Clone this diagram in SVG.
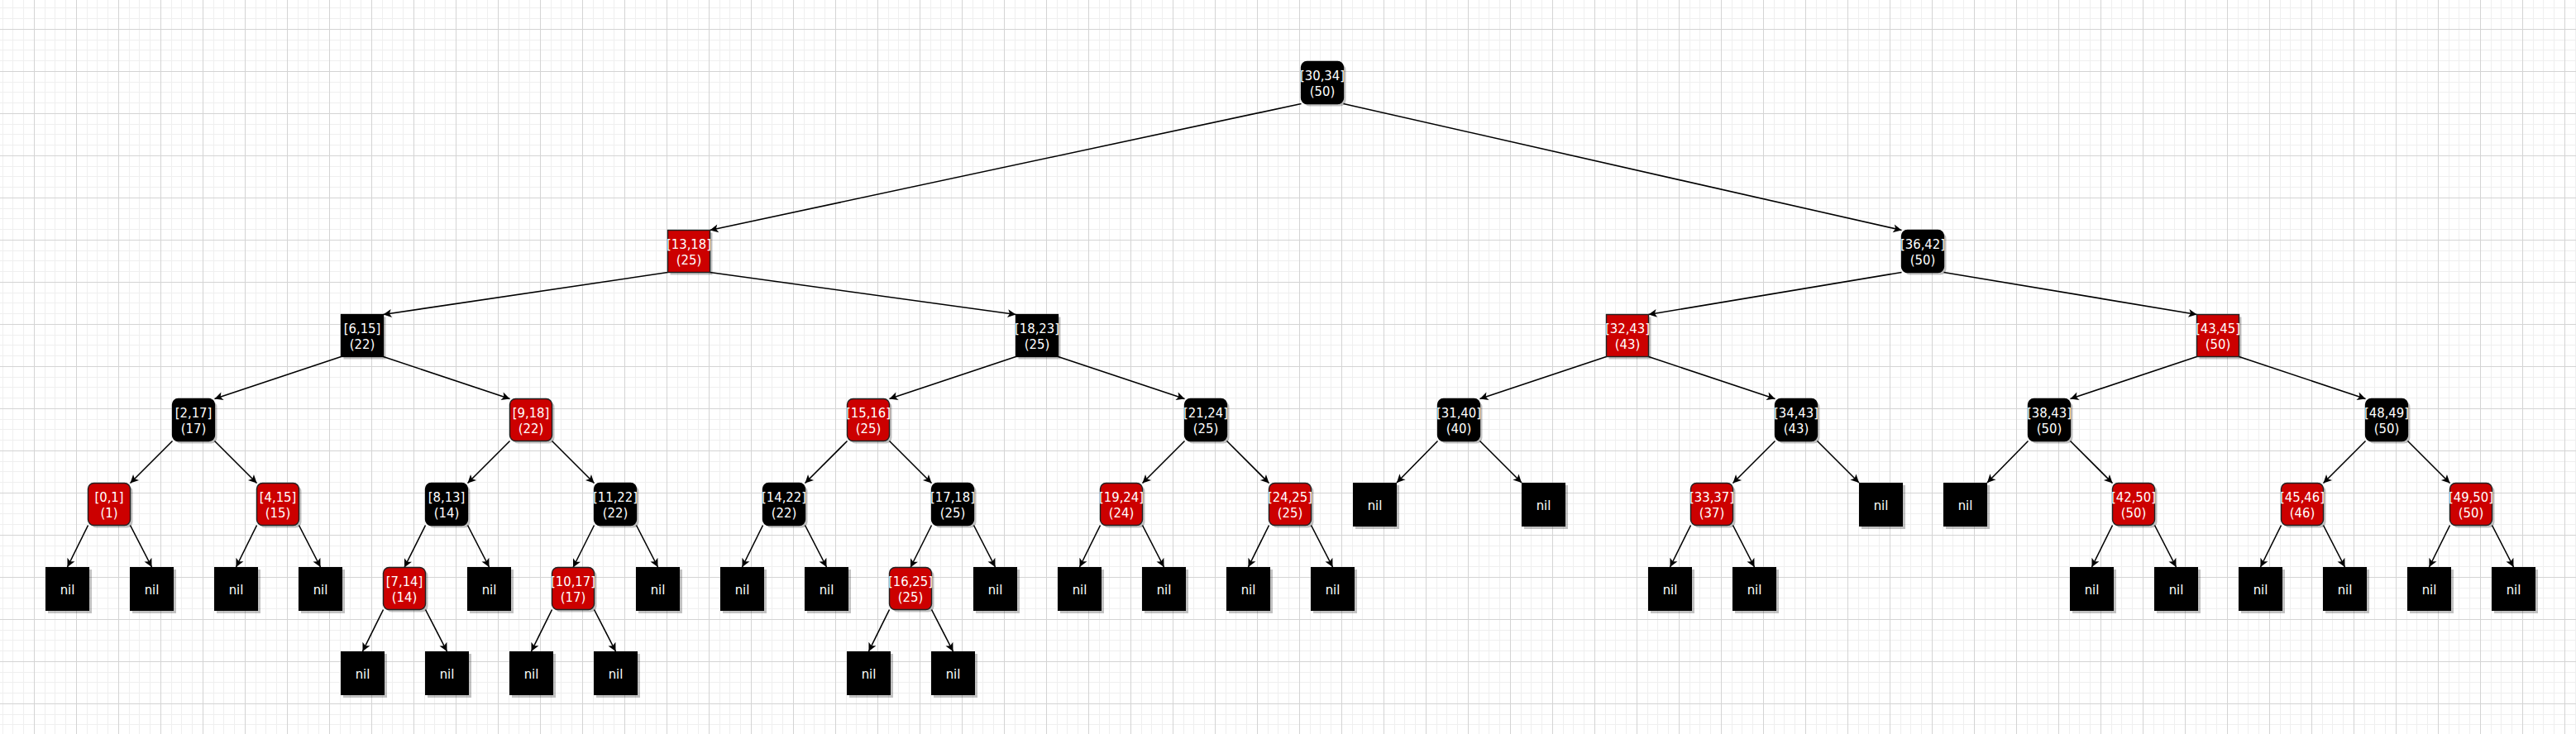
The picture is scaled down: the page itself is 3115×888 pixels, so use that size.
<svg xmlns="http://www.w3.org/2000/svg" xmlns:xlink="http://www.w3.org/1999/xlink" width="3115" height="888" viewBox="0 0 3115 888">
<style>
.sh{fill:#000;fill-opacity:.24}
.blk{fill:#000;stroke:#000;stroke-width:1.3}
.red{fill:#CC0000;stroke:#222;stroke-width:1.4}
.nf{fill:#000}
text{font-family:'DejaVu Sans Condensed','DejaVu Sans',sans-serif;font-stretch:condensed;font-size:16.5px;fill:#fff;text-anchor:middle}
.e{stroke:#000;stroke-width:1.6;fill:none;marker-end:url(#arr)}
</style>
<defs>
<pattern id="grid" width="51" height="51" patternUnits="userSpaceOnUse" x="41" y="35">
<rect width="51" height="51" fill="#fff"/>
<rect x="13" y="0" width="1" height="51" fill="#efefef"/>
<rect x="25" y="0" width="1" height="51" fill="#efefef"/>
<rect x="38" y="0" width="1" height="51" fill="#efefef"/>
<rect x="0" y="13" width="51" height="1" fill="#efefef"/>
<rect x="0" y="25" width="51" height="1" fill="#efefef"/>
<rect x="0" y="38" width="51" height="1" fill="#efefef"/>
<rect x="0" y="0" width="1" height="51" fill="#d4d4d4"/>
<rect x="0" y="0" width="51" height="1" fill="#d4d4d4"/>
</pattern>
<marker id="arr" markerUnits="userSpaceOnUse" viewBox="-11 -6 12 12" refX="0" refY="0" markerWidth="12" markerHeight="12" orient="auto"><path d="M0,0 L-10,-5 L-7.5,0 L-10,5 Z" fill="#000"/></marker>
<g id="rb"><rect class="sh" x="-22.5" y="-22.5" width="51" height="51" rx="7"/><rect class="blk" x="-25.5" y="-25.5" width="51" height="51" rx="7"/></g>
<g id="rr"><rect class="sh" x="-22.5" y="-22.5" width="51" height="51" rx="7"/><rect class="red" x="-25.5" y="-25.5" width="51" height="51" rx="7"/></g>
<g id="sb"><rect class="sh" x="-22.5" y="-22.5" width="51" height="51"/><rect class="blk" x="-25.5" y="-25.5" width="51" height="51"/></g>
<g id="sr"><rect class="sh" x="-22.5" y="-22.5" width="51" height="51"/><rect class="red" x="-25.5" y="-25.5" width="51" height="51"/></g>
<g id="nl"><rect class="sh" x="-23" y="-23" width="53" height="53"/><rect class="nf" x="-26" y="-26" width="53" height="53"/></g>
</defs>
<rect width="3115" height="888" fill="url(#grid)"/>
<g id="edges">
<path class="e" d="M1573.5,125.5 L858.5,278.5"/>
<path class="e" d="M1624.5,125.5 L2299.5,278.5"/>
<path class="e" d="M807.5,329.5 L463.5,380.5"/>
<path class="e" d="M858.5,329.5 L1228.5,380.5"/>
<path class="e" d="M2299.5,329.5 L1993.5,380.5"/>
<path class="e" d="M2350.5,329.5 L2656.5,380.5"/>
<path class="e" d="M412.5,431.5 L259.5,482.5"/>
<path class="e" d="M463.5,431.5 L616.5,482.5"/>
<path class="e" d="M1228.5,431.5 L1075.5,482.5"/>
<path class="e" d="M1279.5,431.5 L1432.5,482.5"/>
<path class="e" d="M1942.5,431.5 L1789.5,482.5"/>
<path class="e" d="M1993.5,431.5 L2146.5,482.5"/>
<path class="e" d="M2656.5,431.5 L2503.5,482.5"/>
<path class="e" d="M2707.5,431.5 L2860.5,482.5"/>
<path class="e" d="M208.5,533.5 L157.5,584.5"/>
<path class="e" d="M259.5,533.5 L310.5,584.5"/>
<path class="e" d="M616.5,533.5 L565.5,584.5"/>
<path class="e" d="M667.5,533.5 L718.5,584.5"/>
<path class="e" d="M1024.5,533.5 L973.5,584.5"/>
<path class="e" d="M1075.5,533.5 L1126.5,584.5"/>
<path class="e" d="M1432.5,533.5 L1381.5,584.5"/>
<path class="e" d="M1483.5,533.5 L1534.5,584.5"/>
<path class="e" d="M1738.5,533.5 L1689,584"/>
<path class="e" d="M1789.5,533.5 L1840,584"/>
<path class="e" d="M2146.5,533.5 L2095.5,584.5"/>
<path class="e" d="M2197.5,533.5 L2248,584"/>
<path class="e" d="M2452.5,533.5 L2403,584"/>
<path class="e" d="M2503.5,533.5 L2554.5,584.5"/>
<path class="e" d="M2860.5,533.5 L2809.5,584.5"/>
<path class="e" d="M2911.5,533.5 L2962.5,584.5"/>
<path class="e" d="M106.5,635.5 L81.5,686"/>
<path class="e" d="M157.5,635.5 L183.5,686"/>
<path class="e" d="M310.5,635.5 L285.5,686"/>
<path class="e" d="M361.5,635.5 L387.5,686"/>
<path class="e" d="M514.5,635.5 L489,686.5"/>
<path class="e" d="M565.5,635.5 L591.5,686"/>
<path class="e" d="M718.5,635.5 L693,686.5"/>
<path class="e" d="M769.5,635.5 L795.5,686"/>
<path class="e" d="M922.5,635.5 L897.5,686"/>
<path class="e" d="M973.5,635.5 L999.5,686"/>
<path class="e" d="M1126.5,635.5 L1101,686.5"/>
<path class="e" d="M1177.5,635.5 L1203.5,686"/>
<path class="e" d="M1330.5,635.5 L1305.5,686"/>
<path class="e" d="M1381.5,635.5 L1407.5,686"/>
<path class="e" d="M1534.5,635.5 L1509.5,686"/>
<path class="e" d="M1585.5,635.5 L1611.5,686"/>
<path class="e" d="M2044.5,635.5 L2019.5,686"/>
<path class="e" d="M2095.5,635.5 L2121.5,686"/>
<path class="e" d="M2554.5,635.5 L2529.5,686"/>
<path class="e" d="M2605.5,635.5 L2631.5,686"/>
<path class="e" d="M2758.5,635.5 L2733.5,686"/>
<path class="e" d="M2809.5,635.5 L2835.5,686"/>
<path class="e" d="M2962.5,635.5 L2937.5,686"/>
<path class="e" d="M3013.5,635.5 L3039.5,686"/>
<path class="e" d="M463.5,737.5 L438.5,788"/>
<path class="e" d="M514.5,737.5 L540.5,788"/>
<path class="e" d="M667.5,737.5 L642.5,788"/>
<path class="e" d="M718.5,737.5 L744.5,788"/>
<path class="e" d="M1075.5,737.5 L1050.5,788"/>
<path class="e" d="M1126.5,737.5 L1152.5,788"/>
</g>
<g id="nodes">
<g id="n30_34" transform="translate(1599,100)"><use href="#rb"/><text><tspan x="0" y="-3">[30,34]</tspan><tspan x="0" y="15.8">(50)</tspan></text></g>
<g id="n13_18" transform="translate(833,304)"><use href="#sr"/><text><tspan x="0" y="-3">[13,18]</tspan><tspan x="0" y="15.8">(25)</tspan></text></g>
<g id="n36_42" transform="translate(2325,304)"><use href="#rb"/><text><tspan x="0" y="-3">[36,42]</tspan><tspan x="0" y="15.8">(50)</tspan></text></g>
<g id="n6_15" transform="translate(438,406)"><use href="#sb"/><text><tspan x="0" y="-3">[6,15]</tspan><tspan x="0" y="15.8">(22)</tspan></text></g>
<g id="n18_23" transform="translate(1254,406)"><use href="#sb"/><text><tspan x="0" y="-3">[18,23]</tspan><tspan x="0" y="15.8">(25)</tspan></text></g>
<g id="n32_43" transform="translate(1968,406)"><use href="#sr"/><text><tspan x="0" y="-3">[32,43]</tspan><tspan x="0" y="15.8">(43)</tspan></text></g>
<g id="n43_45" transform="translate(2682,406)"><use href="#sr"/><text><tspan x="0" y="-3">[43,45]</tspan><tspan x="0" y="15.8">(50)</tspan></text></g>
<g id="n2_17" transform="translate(234,508)"><use href="#rb"/><text><tspan x="0" y="-3">[2,17]</tspan><tspan x="0" y="15.8">(17)</tspan></text></g>
<g id="n9_18" transform="translate(642,508)"><use href="#rr"/><text><tspan x="0" y="-3">[9,18]</tspan><tspan x="0" y="15.8">(22)</tspan></text></g>
<g id="n15_16" transform="translate(1050,508)"><use href="#rr"/><text><tspan x="0" y="-3">[15,16]</tspan><tspan x="0" y="15.8">(25)</tspan></text></g>
<g id="n21_24" transform="translate(1458,508)"><use href="#rb"/><text><tspan x="0" y="-3">[21,24]</tspan><tspan x="0" y="15.8">(25)</tspan></text></g>
<g id="n31_40" transform="translate(1764,508)"><use href="#rb"/><text><tspan x="0" y="-3">[31,40]</tspan><tspan x="0" y="15.8">(40)</tspan></text></g>
<g id="n34_43" transform="translate(2172,508)"><use href="#rb"/><text><tspan x="0" y="-3">[34,43]</tspan><tspan x="0" y="15.8">(43)</tspan></text></g>
<g id="n38_43" transform="translate(2478,508)"><use href="#rb"/><text><tspan x="0" y="-3">[38,43]</tspan><tspan x="0" y="15.8">(50)</tspan></text></g>
<g id="n48_49" transform="translate(2886,508)"><use href="#rb"/><text><tspan x="0" y="-3">[48,49]</tspan><tspan x="0" y="15.8">(50)</tspan></text></g>
<g id="n0_1" transform="translate(132,610)"><use href="#rr"/><text><tspan x="0" y="-3">[0,1]</tspan><tspan x="0" y="15.8">(1)</tspan></text></g>
<g id="n4_15" transform="translate(336,610)"><use href="#rr"/><text><tspan x="0" y="-3">[4,15]</tspan><tspan x="0" y="15.8">(15)</tspan></text></g>
<g id="n8_13" transform="translate(540,610)"><use href="#rb"/><text><tspan x="0" y="-3">[8,13]</tspan><tspan x="0" y="15.8">(14)</tspan></text></g>
<g id="n11_22" transform="translate(744,610)"><use href="#rb"/><text><tspan x="0" y="-3">[11,22]</tspan><tspan x="0" y="15.8">(22)</tspan></text></g>
<g id="n14_22" transform="translate(948,610)"><use href="#rb"/><text><tspan x="0" y="-3">[14,22]</tspan><tspan x="0" y="15.8">(22)</tspan></text></g>
<g id="n17_18" transform="translate(1152,610)"><use href="#rb"/><text><tspan x="0" y="-3">[17,18]</tspan><tspan x="0" y="15.8">(25)</tspan></text></g>
<g id="n19_24" transform="translate(1356,610)"><use href="#rr"/><text><tspan x="0" y="-3">[19,24]</tspan><tspan x="0" y="15.8">(24)</tspan></text></g>
<g id="n24_25" transform="translate(1560,610)"><use href="#rr"/><text><tspan x="0" y="-3">[24,25]</tspan><tspan x="0" y="15.8">(25)</tspan></text></g>
<g id="n33_37" transform="translate(2070,610)"><use href="#rr"/><text><tspan x="0" y="-3">[33,37]</tspan><tspan x="0" y="15.8">(37)</tspan></text></g>
<g id="n42_50" transform="translate(2580,610)"><use href="#rr"/><text><tspan x="0" y="-3">[42,50]</tspan><tspan x="0" y="15.8">(50)</tspan></text></g>
<g id="n45_46" transform="translate(2784,610)"><use href="#rr"/><text><tspan x="0" y="-3">[45,46]</tspan><tspan x="0" y="15.8">(46)</tspan></text></g>
<g id="n49_50" transform="translate(2988,610)"><use href="#rr"/><text><tspan x="0" y="-3">[49,50]</tspan><tspan x="0" y="15.8">(50)</tspan></text></g>
<g id="n7_14" transform="translate(489,712)"><use href="#rr"/><text><tspan x="0" y="-3">[7,14]</tspan><tspan x="0" y="15.8">(14)</tspan></text></g>
<g id="n10_17" transform="translate(693,712)"><use href="#rr"/><text><tspan x="0" y="-3">[10,17]</tspan><tspan x="0" y="15.8">(17)</tspan></text></g>
<g id="n16_25" transform="translate(1101,712)"><use href="#rr"/><text><tspan x="0" y="-3">[16,25]</tspan><tspan x="0" y="15.8">(25)</tspan></text></g>
<g id="nil_a1" transform="translate(1662,610)"><use href="#nl"/><text x="0.5" y="6.5">nil</text></g>
<g id="nil_a2" transform="translate(1866,610)"><use href="#nl"/><text x="0.5" y="6.5">nil</text></g>
<g id="nil_a3" transform="translate(2274,610)"><use href="#nl"/><text x="0.5" y="6.5">nil</text></g>
<g id="nil_a4" transform="translate(2376,610)"><use href="#nl"/><text x="0.5" y="6.5">nil</text></g>
<g id="nil_b1" transform="translate(81,712)"><use href="#nl"/><text x="0.5" y="6.5">nil</text></g>
<g id="nil_b2" transform="translate(183,712)"><use href="#nl"/><text x="0.5" y="6.5">nil</text></g>
<g id="nil_b3" transform="translate(285,712)"><use href="#nl"/><text x="0.5" y="6.5">nil</text></g>
<g id="nil_b4" transform="translate(387,712)"><use href="#nl"/><text x="0.5" y="6.5">nil</text></g>
<g id="nil_b5" transform="translate(591,712)"><use href="#nl"/><text x="0.5" y="6.5">nil</text></g>
<g id="nil_b6" transform="translate(795,712)"><use href="#nl"/><text x="0.5" y="6.5">nil</text></g>
<g id="nil_b7" transform="translate(897,712)"><use href="#nl"/><text x="0.5" y="6.5">nil</text></g>
<g id="nil_b8" transform="translate(999,712)"><use href="#nl"/><text x="0.5" y="6.5">nil</text></g>
<g id="nil_b9" transform="translate(1203,712)"><use href="#nl"/><text x="0.5" y="6.5">nil</text></g>
<g id="nil_b10" transform="translate(1305,712)"><use href="#nl"/><text x="0.5" y="6.5">nil</text></g>
<g id="nil_b11" transform="translate(1407,712)"><use href="#nl"/><text x="0.5" y="6.5">nil</text></g>
<g id="nil_b12" transform="translate(1509,712)"><use href="#nl"/><text x="0.5" y="6.5">nil</text></g>
<g id="nil_b13" transform="translate(1611,712)"><use href="#nl"/><text x="0.5" y="6.5">nil</text></g>
<g id="nil_b14" transform="translate(2019,712)"><use href="#nl"/><text x="0.5" y="6.5">nil</text></g>
<g id="nil_b15" transform="translate(2121,712)"><use href="#nl"/><text x="0.5" y="6.5">nil</text></g>
<g id="nil_b16" transform="translate(2529,712)"><use href="#nl"/><text x="0.5" y="6.5">nil</text></g>
<g id="nil_b17" transform="translate(2631,712)"><use href="#nl"/><text x="0.5" y="6.5">nil</text></g>
<g id="nil_b18" transform="translate(2733,712)"><use href="#nl"/><text x="0.5" y="6.5">nil</text></g>
<g id="nil_b19" transform="translate(2835,712)"><use href="#nl"/><text x="0.5" y="6.5">nil</text></g>
<g id="nil_b20" transform="translate(2937,712)"><use href="#nl"/><text x="0.5" y="6.5">nil</text></g>
<g id="nil_b21" transform="translate(3039,712)"><use href="#nl"/><text x="0.5" y="6.5">nil</text></g>
<g id="nil_c1" transform="translate(438,814)"><use href="#nl"/><text x="0.5" y="6.5">nil</text></g>
<g id="nil_c2" transform="translate(540,814)"><use href="#nl"/><text x="0.5" y="6.5">nil</text></g>
<g id="nil_c3" transform="translate(642,814)"><use href="#nl"/><text x="0.5" y="6.5">nil</text></g>
<g id="nil_c4" transform="translate(744,814)"><use href="#nl"/><text x="0.5" y="6.5">nil</text></g>
<g id="nil_c5" transform="translate(1050,814)"><use href="#nl"/><text x="0.5" y="6.5">nil</text></g>
<g id="nil_c6" transform="translate(1152,814)"><use href="#nl"/><text x="0.5" y="6.5">nil</text></g>
</g>
</svg>
